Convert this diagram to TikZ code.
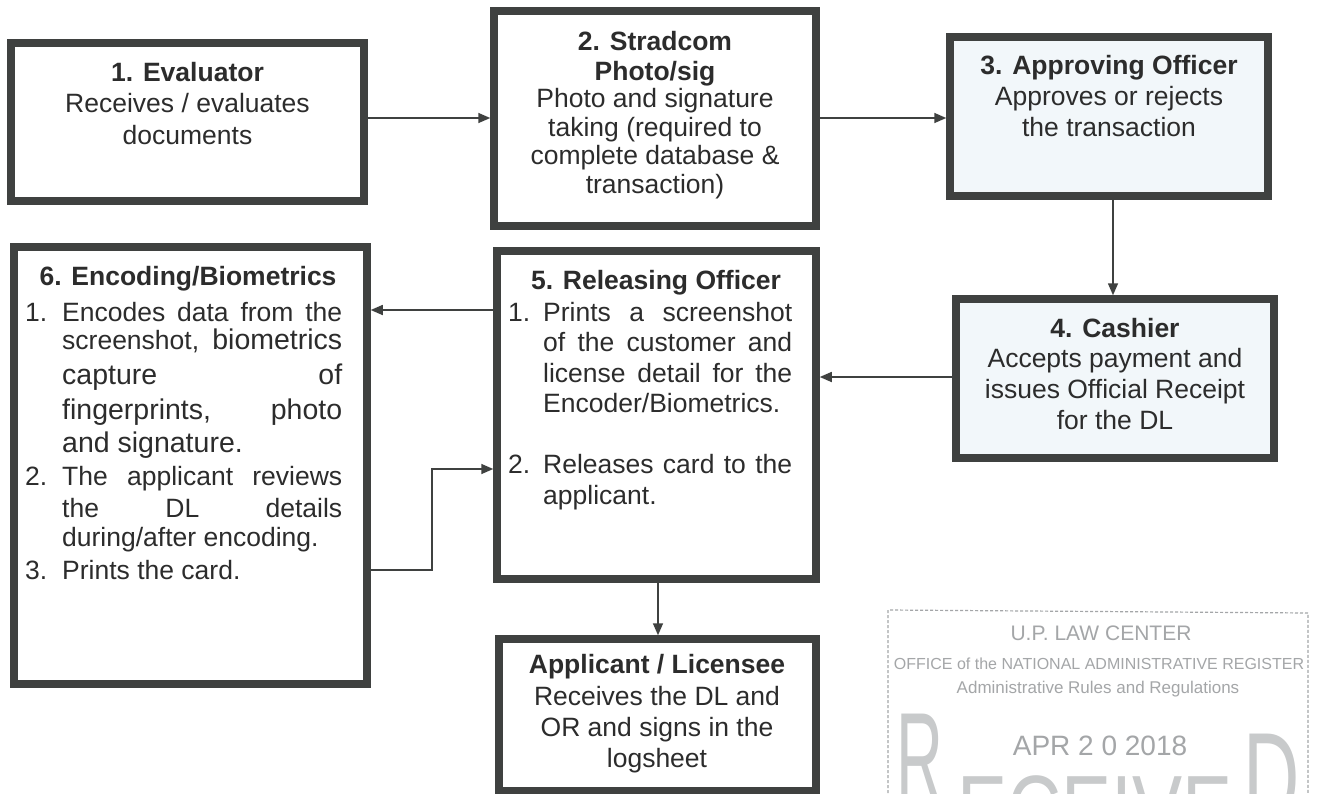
\documentclass[tikz,border=0pt]{standalone}
\usepackage{fontspec}
\setmainfont{Liberation Sans}
\usetikzlibrary{arrows.meta}
\definecolor{ink}{HTML}{2C2C2C}
\definecolor{frame}{HTML}{3F4140}
\definecolor{stampc}{HTML}{A4A6A8}
\definecolor{pale}{HTML}{F2F7FA}
\newcommand\jline[2]{\makebox[#1][s]{#2}}
\begin{document}
\begin{tikzpicture}[x=1pt,y=-1pt,
  box/.style={draw=frame, line width=7.5pt, outer sep=3.75pt, inner sep=0pt, fill=white},
  arr/.style={draw=frame, line width=1.6pt, -{Triangle[length=12pt,width=10pt]}},
  tl/.style={anchor=base, inner sep=0pt, text=ink, font=\fontsize{26.5}{30}\selectfont},
  tb/.style={tl, font=\fontsize{26.5}{30}\selectfont\bfseries},
  tw/.style={tl, anchor=base west},
  st/.style={inner sep=0pt, text=stampc, anchor=base},
  big/.style={st, text=stampc!60}
]
\useasboundingbox[fill=white] (0,0) rectangle (1318,793);
\begin{scope}
\clip (0,0) rectangle (1318,793);

% ---------- boxes ----------
\node[box, minimum width=353pt, minimum height=158pt] (b1) at (187.5,122) {};
\node[box, minimum width=322pt, minimum height=215pt] (b2) at (655,118.5) {};
\node[box, fill=pale, minimum width=318pt, minimum height=159pt] (b3) at (1109,116.5) {};
\node[box, fill=pale, minimum width=318pt, minimum height=159pt] (b4) at (1115,378.5) {};
\node[box, minimum width=319pt, minimum height=328pt] (b5) at (656.5,415) {};
\node[box, minimum width=353pt, minimum height=437pt] (b6) at (190.5,465.5) {};
\node[box, minimum width=317pt, minimum height=152pt] (b7) at (657.5,715) {};

% ---------- box 1 text ----------
\node[tb] (b1a) at (187.5,81.5) {1. Evaluator};
\node[tl] (b1b) at (187.5,112.5) {Receives / evaluates};
\node[tl] (b1c) at (187.5,144) {documents};

% ---------- box 2 text ----------
\node[tb] (b2a) at (655,50) {2. Stradcom};
\node[tb] (b2b) at (655,80) {Photo/sig};
\node[tl] (b2c) at (655,107) {Photo and signature};
\node[tl] (b2d) at (655,136) {taking (required to};
\node[tl] (b2e) at (655,164) {complete database \&};
\node[tl] (b2f) at (655,193) {transaction)};

% ---------- box 3 text ----------
\node[tb] (b3a) at (1109,74.5) {3. Approving Officer};
\node[tl] (b3b) at (1109,105.5) {Approves or rejects};
\node[tl] (b3c) at (1109,136.5) {the transaction};

% ---------- box 4 text ----------
\node[tb] (b4a) at (1115,337) {4. Cashier};
\node[tl] (b4b) at (1115,367.5) {Accepts payment and};
\node[tl] (b4c) at (1115,398) {issues Official Receipt};
\node[tl] (b4d) at (1115,429) {for the DL};

% ---------- box 5 text ----------
\node[tb] (b5a) at (656,289) {5. Releasing Officer};
\node[tw] (b5n1) at (508,321) {1.};
\node[tw] (b5b) at (543,321) {\jline{249pt}{Prints a screenshot}};
\node[tw] (b5c) at (543,351.5) {\jline{249pt}{of the customer and}};
\node[tw] (b5d) at (543,382) {\jline{249pt}{license detail for the}};
\node[tw] (b5e) at (543,412.5) {Encoder/Biometrics.};
\node[tw] (b5n2) at (508,473.5) {2.};
\node[tw] (b5f) at (543,473.5) {\jline{249pt}{Releases card to the}};
\node[tw] (b5g) at (543,504) {applicant.};

% ---------- box 6 text ----------
\node[tb] (b6a) at (188,285.5) {6. Encoding/Biometrics};
\node[tw] (b6n1) at (25,321) {1.};
\node[tw] (b6b) at (62,321) {\jline{280pt}{Encodes data from the}};
\node[tw] (b6c) at (62,349.5) {\jline{280pt}{screenshot, {\fontsize{28.5}{30}\selectfont biometrics}}};
\node[tw, font=\fontsize{28.5}{30}\selectfont] (b6d) at (62,384.5) {\jline{280pt}{capture of}};
\node[tw, font=\fontsize{28.5}{30}\selectfont] (b6e) at (62,419.5) {\jline{280pt}{fingerprints, photo}};
\node[tw, font=\fontsize{28.5}{30}\selectfont] (b6f) at (62,452) {and signature.};
\node[tw] (b6n2) at (25,485.5) {2.};
\node[tw] (b6g) at (62,485.5) {\jline{280pt}{The applicant reviews}};
\node[tw] (b6h) at (62,517) {\jline{280pt}{the DL details}};
\node[tw] (b6i) at (62,546) {during/after encoding.};
\node[tw] (b6n3) at (25,579) {3.};
\node[tw] (b6j) at (62,579) {Prints the card.};

% ---------- applicant box text ----------
\node[tb] (b7a) at (657,673) {Applicant / Licensee};
\node[tl] (b7b) at (657,705.5) {Receives the DL and};
\node[tl] (b7c) at (657,736) {OR and signs in the};
\node[tl] (b7d) at (657,767) {logsheet};

% ---------- connectors ----------
\draw[arr] (b1.east |- {(0,118)}) -- (b2.west |- {(0,118)});
\draw[arr] (b2.east |- {(0,118)}) -- (b3.west |- {(0,118)});
\draw[arr] (b3.south -| {(1113,0)}) -- (b4.north -| {(1113,0)});
\draw[arr] (b4.west |- {(0,377)}) -- (b5.east |- {(0,377)});
\draw[arr] (b5.west |- {(0,310)}) -- (b6.east |- {(0,310)});
\draw[arr] (b6.east |- {(0,570)}) -- (432,570) -- (432,469) -- (b5.west |- {(0,469)});
\draw[arr] (b5.south -| {(658,0)}) -- (b7.north -| {(658,0)});

% ---------- stamp ----------
\draw[stampc, line width=1.2pt, densely dashed] (888,793) -- (888,610) -- (1308,613) -- (1308,793);
\node[st] (s1) at (1101,640) {\fontsize{21}{21}\selectfont U.P. LAW CENTER};
\node[st] (s2) at (1099,669) {\fontsize{16}{16}\selectfont OFFICE of the NATIONAL ADMINISTRATIVE REGISTER};
\node[st] (s3) at (1098,693) {\fontsize{17}{17}\selectfont Administrative Rules and Regulations};
\node[st] (s4) at (1100,755) {\fontsize{28}{28}\selectfont APR 2 0 2018};
\node[big] (s5) at (920,803) {\scalebox{0.5}[1]{\fontsize{130}{130}\selectfont R}};
\node[big] (s6) at (1272,823) {\scalebox{0.6}[1]{\fontsize{130}{130}\selectfont D}};
\node[big] (s7) at (1095,845) {\scalebox{0.75}[1]{\fontsize{100}{100}\selectfont ECEIVE}};
\end{scope}
\end{tikzpicture}
\end{document}
